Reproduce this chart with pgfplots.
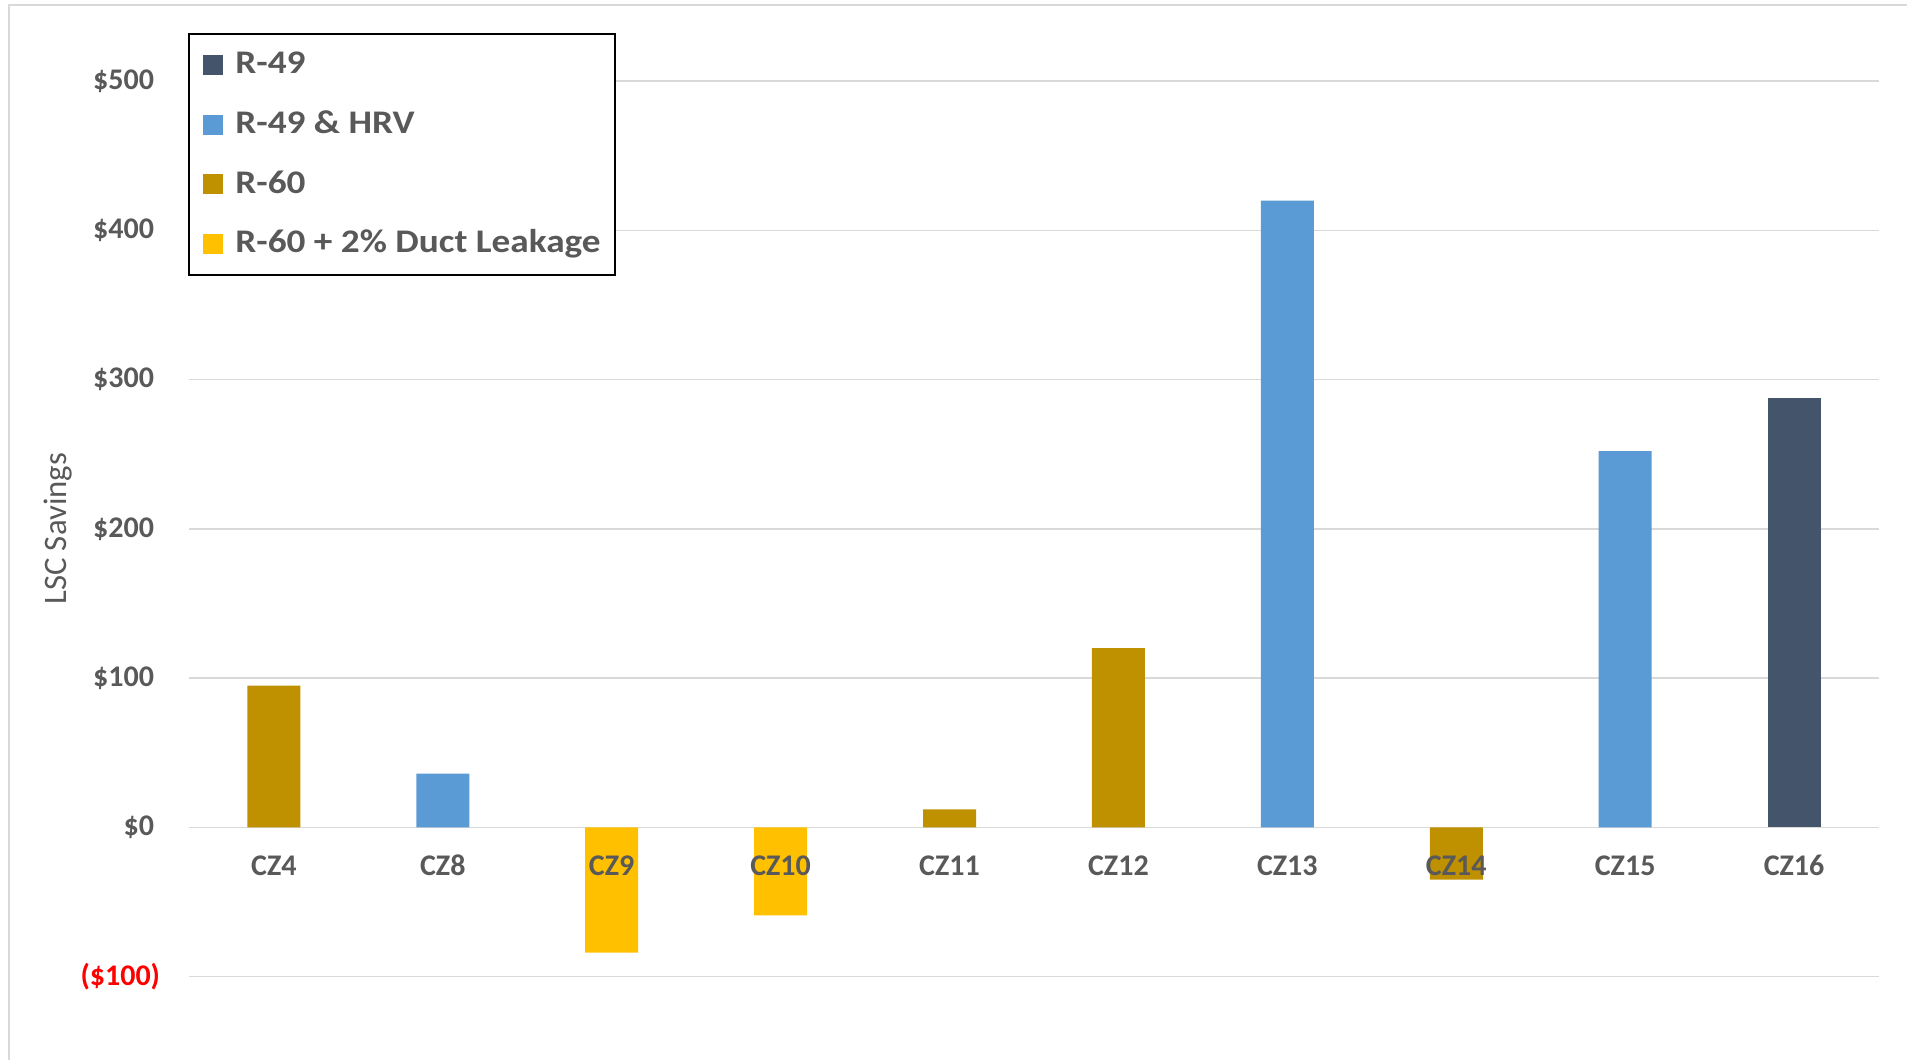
\documentclass[border=0pt]{standalone}
\usepackage{pgfplots}
\pgfplotsset{compat=1.18}
\usepackage{fontspec}
\setmainfont{Carlito}
\newfontfamily\legfont[FakeStretch=1.13]{Carlito}
\definecolor{cDark}{HTML}{44546A}
\definecolor{cBlue}{HTML}{5B9BD5}
\definecolor{cGold}{HTML}{BF9000}
\definecolor{cYel}{HTML}{FFC000}
\definecolor{txtgray}{HTML}{595959}
\definecolor{gridgray}{HTML}{D9D9D9}
\pgfplotsset{
  layers/labelsontop/.define layer set={
    axis background,axis grid,axis ticks,axis lines,pre main,main,axis tick labels,axis descriptions,axis foreground
  }{
    grid style={/pgfplots/on layer=axis grid},
    tick style={/pgfplots/on layer=axis ticks},
    axis line style={/pgfplots/on layer=axis lines},
    label style={/pgfplots/on layer=axis descriptions},
    legend style={/pgfplots/on layer=axis descriptions},
    title style={/pgfplots/on layer=axis descriptions},
    colorbar style={/pgfplots/on layer=axis descriptions},
    ticklabel style={/pgfplots/on layer=axis tick labels},
    axis background@ style={/pgfplots/on layer=axis background},
    3d box foreground style={/pgfplots/on layer=axis foreground},
  },
}
\begin{document}
\begin{tikzpicture}
\path (0,0) rectangle (954pt,530.5pt);
\begin{axis}[
  set layers=labelsontop,
  at={(94.75pt,42pt)}, anchor=south west,
  scale only axis, width=845pt, height=447.9pt,
  xmin=-0.5, xmax=9.5, ymin=-100, ymax=500,
  ybar, bar width=26.5pt, bar shift=0pt,
  legend image code/.code={\fill[#1] (0pt,-5pt) rectangle (10pt,5pt);},
  axis line style={draw=none},
  major tick length=0pt,
  ymajorgrids, grid style={color=gridgray, line width=0.75pt},
  xtick={0,...,9},
  xticklabels={CZ4,CZ8,CZ9,CZ10,CZ11,CZ12,CZ13,CZ14,CZ15,CZ16},
  xticklabel style={anchor=center, yshift=55.5pt, font=\fontsize{15}{18}\selectfont\bfseries, text=txtgray},
  ytick={-100,0,100,200,300,400,500},
  yticklabels={\textcolor{red}{(\$100)}\kern-3pt,\$0,\$100,\$200,\$300,\$400,\$500},
  yticklabel style={anchor=east, inner sep=0pt, xshift=-17.5pt, font=\fontsize{15}{18}\selectfont\bfseries, text=txtgray},
  ylabel={LSC Savings},
  ylabel style={at={(axis description cs:-0.0775,0.5)}, anchor=center, font=\fontsize{16.4}{19}\selectfont, text=txtgray},
  legend cell align=left,
  legend style={at={(axis description cs:-0.0006,1.0538)}, anchor=north west,
    draw=black, line width=1pt, inner xsep=7pt, inner ysep=8pt,
    row sep=14.85pt,
    font=\fontsize{16.5}{20}\legfont\bfseries, text=txtgray,
    nodes={inner sep=0pt, text height=12pt, text depth=3pt},
    /tikz/every odd column/.style={column sep=6pt}},
]
\addplot[fill=cDark, draw=none] coordinates {(9,288)};
\addlegendentry{R-49}
\addplot[fill=cBlue, draw=none] coordinates {(1,36) (6,420) (8,252)};
\addlegendentry{R-49 \& HRV}
\addplot[fill=cGold, draw=none] coordinates {(0,95) (4,12) (5,120) (7,-35)};
\addlegendentry{R-60}
\addplot[fill=cYel, draw=none] coordinates {(2,-84) (3,-59)};
\addlegendentry{R-60 + 2\% Duct Leakage}
\end{axis}
\draw[gridgray, line width=1pt] (4.5pt,0) -- (4.5pt,528pt) -- (954pt,528pt);
\end{tikzpicture}
\end{document}
